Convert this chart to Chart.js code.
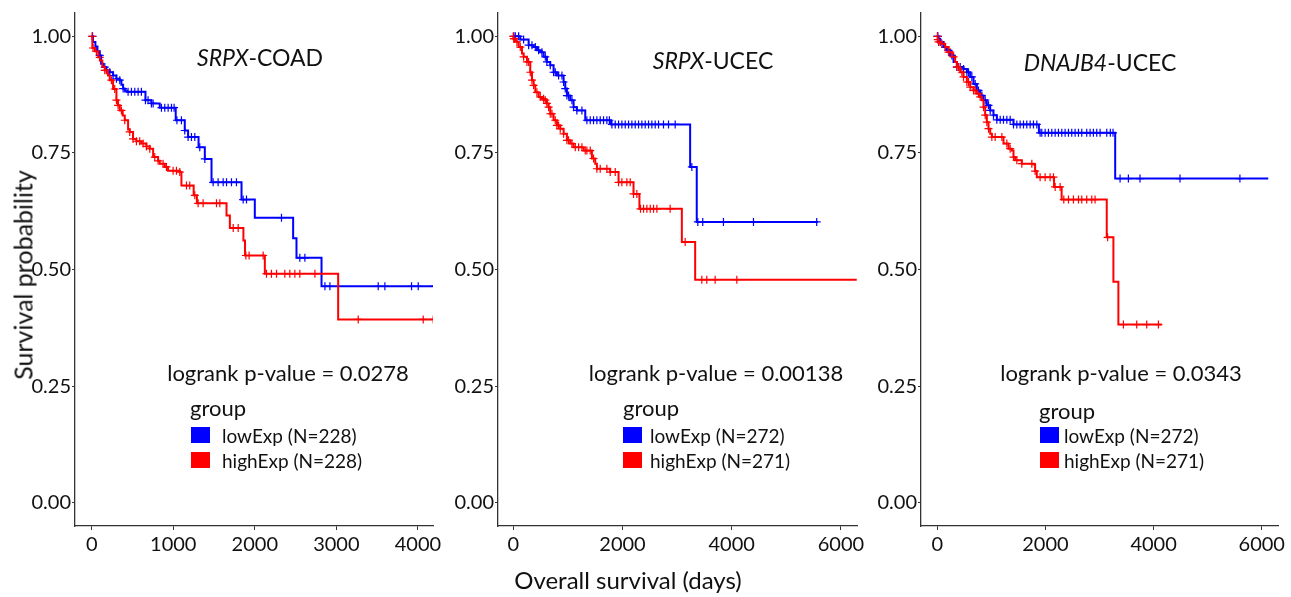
<!DOCTYPE html>
<html>
<head>
<meta charset="utf-8">
<script src="https://cdn.jsdelivr.net/npm/chart.js@4.4.0/dist/chart.umd.min.js"></script>
<style>
  html, body { margin: 0; padding: 0; background: #fff; }
  body { width: 1291px; height: 597px; position: relative; overflow: hidden;
         font-family: Lato, "Open Sans", sans-serif; color: #111; }
  canvas { position: absolute; top: 0; }
  .txt { position: absolute; white-space: nowrap; line-height: 1; }
  .mid { transform: translate(-50%, -50%); }
  .box { position: absolute; width: 19px; height: 16px; }
</style>
</head>
<body>
<canvas id="p1" width="450" height="597" style="left:0px"></canvas>
<canvas id="p2" width="440" height="597" style="left:440px"></canvas>
<canvas id="p3" width="425" height="597" style="left:866px"></canvas>

<script>
/* values: time (days) of each step and survival after it */

// SRPX-COAD
const p1LowT = [0, 15, 45, 70, 98, 115, 140, 180, 221, 262, 303, 344, 364, 385, 405, 430, 659, 732, 834, 1030, 1141, 1182, 1310, 1387, 1469, 1837, 2000, 2470, 2511, 2818, 4200];
const p1LowS = [1.000, 0.988, 0.978, 0.968, 0.959, 0.941, 0.934, 0.927, 0.923, 0.916, 0.909, 0.906, 0.896, 0.888, 0.884, 0.881, 0.863, 0.856, 0.847, 0.820, 0.798, 0.784, 0.762, 0.737, 0.687, 0.650, 0.611, 0.567, 0.525, 0.464, 0.464];
const p1LowCens = [10, 98, 160, 221, 262, 303, 344, 385, 446, 487, 528, 569, 609, 659, 691, 732, 753, 855, 896, 937, 978, 1010, 1045, 1100, 1141, 1182, 1223, 1264, 1325, 1387, 1489, 1550, 1612, 1653, 1714, 1775, 1857, 1898, 2327, 2552, 2614, 2860, 2921, 3513, 3595, 3922, 4004, 4200];
const p1HighT = [0, 8, 40, 80, 100, 130, 160, 200, 221, 262, 303, 323, 344, 380, 405, 446, 466, 507, 548, 609, 671, 712, 753, 814, 834, 896, 936, 1080, 1100, 1250, 1290, 1653, 1694, 1860, 1880, 2123, 3022, 4190];
const p1HighS = [1.000, 0.975, 0.968, 0.955, 0.948, 0.935, 0.927, 0.916, 0.906, 0.887, 0.863, 0.852, 0.841, 0.830, 0.820, 0.800, 0.795, 0.780, 0.775, 0.770, 0.764, 0.759, 0.741, 0.733, 0.727, 0.720, 0.712, 0.709, 0.680, 0.659, 0.642, 0.616, 0.589, 0.562, 0.530, 0.491, 0.393, 0.393];
const p1HighCens = [5, 16, 57, 98, 160, 180, 241, 282, 303, 323, 364, 405, 466, 507, 548, 589, 630, 671, 712, 773, 814, 875, 916, 998, 1039, 1080, 1162, 1202, 1264, 1305, 1366, 1530, 1571, 1735, 1796, 1890, 1930, 2102, 2143, 2204, 2266, 2368, 2429, 2491, 2552, 2737, 3268, 4065, 4188];

// SRPX-UCEC
const p2LowT = [0, 128, 281, 372, 433, 494, 555, 616, 677, 738, 799, 921, 952, 982, 1043, 1104, 1165, 1318, 1790, 3239, 3360, 5580];
const p2LowS = [1.000, 0.993, 0.981, 0.977, 0.970, 0.966, 0.956, 0.945, 0.938, 0.923, 0.916, 0.902, 0.888, 0.873, 0.863, 0.848, 0.841, 0.820, 0.811, 0.720, 0.602, 0.602];
const p2LowCens = [10, 37, 98, 189, 281, 342, 403, 464, 525, 586, 616, 677, 738, 769, 830, 891, 921, 952, 982, 1013, 1074, 1104, 1165, 1257, 1348, 1409, 1470, 1531, 1592, 1653, 1714, 1760, 1806, 1867, 1928, 1989, 2050, 2111, 2172, 2233, 2294, 2355, 2416, 2477, 2538, 2599, 2660, 2751, 2843, 2965, 3270, 3380, 3470, 3849, 4399, 5557];
const p2HighT = [0, 5, 30, 60, 98, 159, 189, 250, 311, 342, 372, 403, 464, 525, 586, 616, 647, 677, 738, 799, 860, 921, 982, 1043, 1104, 1287, 1440, 1501, 1531, 1775, 1928, 2202, 2310, 3087, 3331, 6290];
const p2HighS = [1.000, 0.995, 0.991, 0.988, 0.977, 0.963, 0.956, 0.945, 0.923, 0.906, 0.895, 0.880, 0.870, 0.866, 0.863, 0.856, 0.848, 0.834, 0.820, 0.809, 0.802, 0.791, 0.777, 0.770, 0.762, 0.755, 0.738, 0.727, 0.716, 0.709, 0.687, 0.662, 0.630, 0.559, 0.478, 0.478];
const p2HighCens = [0, 10, 20, 67, 128, 189, 250, 281, 311, 342, 372, 433, 494, 555, 586, 616, 647, 677, 708, 769, 799, 830, 860, 921, 982, 1013, 1074, 1135, 1196, 1257, 1318, 1348, 1409, 1470, 1531, 1592, 1714, 1775, 1867, 1928, 1989, 2080, 2141, 2202, 2263, 2330, 2386, 2447, 2508, 2569, 2630, 2873, 3148, 3453, 3544, 3697, 4094];

// DNAJB4-UCEC
const p3LowT = [0, 25, 55, 117, 179, 240, 302, 363, 486, 548, 610, 671, 733, 794, 856, 917, 979, 1040, 1102, 1410, 1880, 3290, 6120];
const p3LowS = [1.000, 0.995, 0.988, 0.977, 0.970, 0.959, 0.945, 0.934, 0.930, 0.923, 0.913, 0.898, 0.884, 0.873, 0.863, 0.852, 0.841, 0.831, 0.821, 0.811, 0.793, 0.695, 0.695];
const p3LowCens = [5, 10, 55, 148, 209, 271, 363, 425, 486, 548, 579, 640, 702, 763, 825, 887, 948, 979, 1040, 1102, 1164, 1225, 1287, 1348, 1410, 1472, 1533, 1595, 1656, 1718, 1779, 1841, 1902, 1933, 1995, 2056, 2118, 2180, 2241, 2303, 2364, 2426, 2487, 2549, 2611, 2672, 2764, 2826, 2887, 2949, 3011, 3134, 3200, 3250, 3380, 3534, 3749, 4488, 5596];
const p3HighT = [0, 10, 25, 86, 148, 209, 271, 332, 363, 425, 486, 548, 610, 671, 733, 794, 825, 856, 887, 917, 948, 979, 1010, 1225, 1318, 1379, 1410, 1441, 1564, 1779, 1810, 1841, 2160, 2300, 3134, 3257, 3349, 4150];
const p3HighS = [1.000, 0.993, 0.988, 0.984, 0.977, 0.966, 0.956, 0.945, 0.934, 0.923, 0.913, 0.902, 0.891, 0.884, 0.877, 0.870, 0.863, 0.848, 0.831, 0.816, 0.802, 0.791, 0.784, 0.770, 0.759, 0.755, 0.741, 0.734, 0.727, 0.725, 0.711, 0.698, 0.677, 0.650, 0.569, 0.474, 0.382, 0.382];
const p3HighCens = [5, 10, 25, 86, 148, 209, 240, 302, 363, 394, 456, 486, 548, 579, 610, 671, 702, 763, 794, 856, 887, 917, 948, 1010, 1071, 1195, 1287, 1348, 1410, 1472, 1564, 1749, 1810, 1902, 1995, 2087, 2149, 2180, 2272, 2340, 2426, 2518, 2611, 2672, 2764, 2857, 2918, 3150, 3442, 3688, 3873, 4089];

// labels and ticks
const genes = ['SRPX', 'SRPX', 'DNAJB4'];
const cancers = ['COAD', 'UCEC', 'UCEC'];
const pValues = ['0.0278', '0.00138', '0.0343'];
const lowN = [228, 272, 272];
const highN = [228, 271, 271];
const yTicks = [0, 0.25, 0.5, 0.75, 1.0];
const xTicks1 = [0, 1000, 2000, 3000, 4000];
const xTicks23 = [0, 2000, 4000, 6000];

const BLUE = '#0000ff';
const RED = '#ff0000';
const AXIS = '#333333';
const FONT = 'Lato, "Open Sans", sans-serif';

// survival at time t from the step arrays (where a censor mark sits)
function survAt(times, surv, t) {
    let s = surv[0];
    for (let i = 0; i < times.length; i++) {
        if (times[i] <= t) s = surv[i];
    }
    return s;
}

function curve(times, surv) {
    return times.map((t, i) => ({ x: t, y: surv[i] }));
}

function marks(cens, times, surv) {
    return cens.map(t => ({ x: t, y: survAt(times, surv, t) }));
}

// layout of the three panels (pixel geometry only)
// y scale must be wide enough for its labels: chart.js clips them to the scale box
const panels = [
    { id: 'p1', lowT: p1LowT, lowS: p1LowS, lowC: p1LowCens, highT: p1HighT, highS: p1HighS, highC: p1HighCens,
      xTicks: xTicks1, xMin: -205, xMax: 4185, yWidth: 60, padL: 15, padR: 17,
      title: [260, 57], p: [288, 373], group: [190, 408], legX: 191, legTextX: 222 },
    { id: 'p2', lowT: p2LowT, lowS: p2LowS, lowC: p2LowCens, highT: p2HighT, highS: p2HighS, highC: p2HighCens,
      xTicks: xTicks23, xMin: -280, xMax: 6295, yWidth: 55, padL: 3, padR: 23,
      title: [713, 60], p: [716, 373], group: [623, 408], legX: 623, legTextX: 650 },
    { id: 'p3', lowT: p3LowT, lowS: p3LowS, lowC: p3LowCens, highT: p3HighT, highS: p3HighS, highC: p3HighCens,
      xTicks: xTicks23, xMin: -300, xMax: 6300, yWidth: 52, padL: 3, padR: 13,
      title: [1100, 62], p: [1121, 373], group: [1039, 411], legX: 1040, legTextX: 1064 }
];

function addText(html, x, y, size, cls, extra) {
    const d = document.createElement('div');
    d.className = 'txt ' + (cls || '');
    d.style.left = x + 'px';
    d.style.top = y + 'px';
    d.style.fontSize = size + 'px';
    if (extra) Object.assign(d.style, extra);
    d.innerHTML = html;
    document.body.appendChild(d);
    return d;
}

function addBox(x, y, color) {
    const b = document.createElement('div');
    b.className = 'box';
    b.style.left = x + 'px';
    b.style.top = y + 'px';
    b.style.background = color;
    document.body.appendChild(b);
}

panels.forEach((p, k) => {
    const ctx = document.getElementById(p.id).getContext('2d');
    new Chart(ctx, {
        type: 'scatter',
        data: {
            datasets: [
                { data: curve(p.highT, p.highS), showLine: true, stepped: 'before', borderColor: RED, borderWidth: 2, pointRadius: 0 },
                { data: curve(p.lowT, p.lowS), showLine: true, stepped: 'before', borderColor: BLUE, borderWidth: 2, pointRadius: 0 },
                { data: marks(p.highC, p.highT, p.highS), showLine: false, pointStyle: 'cross', pointRadius: 4, borderWidth: 1.2, borderColor: RED },
                { data: marks(p.lowC, p.lowT, p.lowS), showLine: false, pointStyle: 'cross', pointRadius: 4, borderWidth: 1.2, borderColor: BLUE }
            ]
        },
        options: {
            responsive: false,
            animation: false,
            events: [],
            layout: { padding: { left: p.padL, right: p.padR, top: 13, bottom: 31 } },
            plugins: { legend: { display: false }, tooltip: { enabled: false } },
            scales: {
                x: {
                    type: 'linear', min: p.xMin, max: p.xMax,
                    afterBuildTicks: s => { s.ticks = p.xTicks.map(v => ({ value: v })); },
                    afterFit: s => { s.height = 40; },
                    grid: { drawOnChartArea: false, drawTicks: true, tickLength: 4, color: AXIS },
                    border: { color: AXIS, width: 1.3 },
                    ticks: { color: '#111', font: { family: FONT, size: 20 }, padding: 3, maxRotation: 0, autoSkip: false,
                             callback: v => String(v) }
                },
                y: {
                    type: 'linear', min: -0.05, max: 1.05,
                    afterBuildTicks: s => { s.ticks = yTicks.map(v => ({ value: v })); },
                    afterFit: s => { s.width = p.yWidth; },
                    grid: { drawOnChartArea: false, drawTicks: true, tickLength: 3, color: AXIS },
                    border: { color: AXIS, width: 1.3 },
                    ticks: { color: '#111', font: { family: FONT, size: 20 }, padding: 1, autoSkip: false,
                             callback: v => Number(v).toFixed(2) }
                }
            }
        }
    });

    addText('<i>' + genes[k] + '</i>-' + cancers[k], p.title[0], p.title[1], 23, 'mid');
    addText('logrank p-value = ' + pValues[k], p.p[0], p.p[1], 22, 'mid');
    addText('group', p.group[0], p.group[1], 22, '', { transform: 'translateY(-50%)' });
    addBox(p.legX, 427, BLUE);
    addBox(p.legX, 452, RED);
    addText('lowExp (N=' + lowN[k] + ')', p.legTextX, 435, 19, '', { transform: 'translateY(-50%)' });
    addText('highExp (N=' + highN[k] + ')', p.legTextX, 460, 19, '', { transform: 'translateY(-50%)' });
});

addText('Survival probability', 23, 275, 25, '', { transform: 'translate(-50%, -50%) rotate(-90deg)' });
addText('Overall survival (days)', 628, 580, 24, 'mid');
</script>
</body>
</html>
